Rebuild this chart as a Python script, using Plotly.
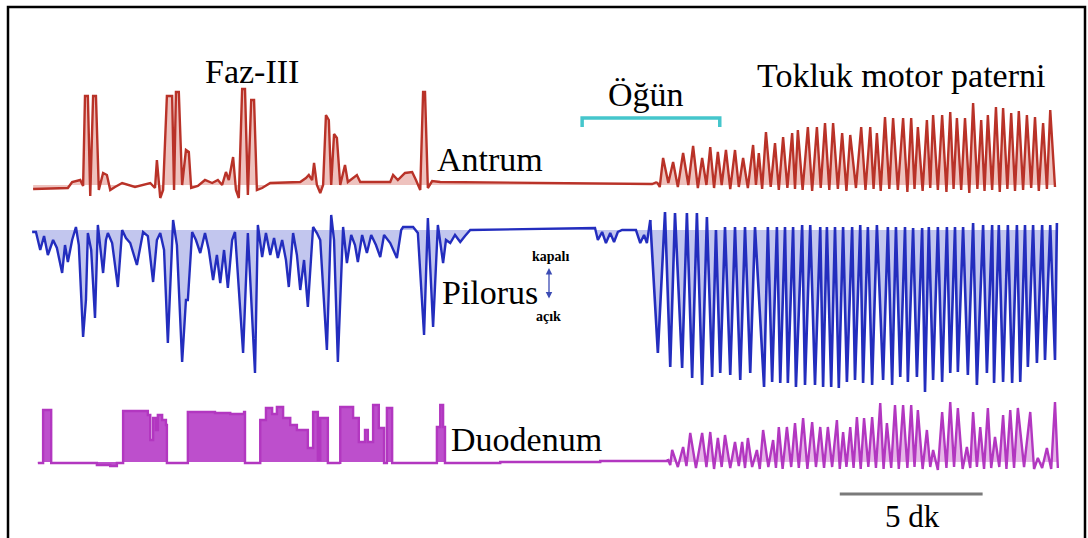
import plotly.graph_objects as go

# ---------------- data (time in seconds, amplitudes in arbitrary units, baseline = 0) -------------
antrum_rest_t = [-4, 69, 78, 95, 101, 105, 111, 116, 122, 128, 134, 143, 151, 158, 168, 183, 210, 242, 252, 256,
                 263, 269, 277, 288, 292, 296, 302, 309, 317, 323, 328, 342, 357, 372, 384, 393, 401, 407, 416, 422,
                 428, 435, 441, 447, 454, 460, 466, 477, 494, 557, 569, 575, 582, 586, 592, 599, 605, 611, 617, 622,
                 628, 634, 641, 651, 657, 676, 683, 746, 752, 762, 777, 792, 800, 809, 815, 819, 825, 834, 851, 1187,
                 1296, 1306]
antrum_rest_v = [-4, -3, 3, 5, -1, 89, 89, -11, 89, 89, -5, 12, 10, -5, -2, 2, -2, 2, -3, 25,
                 -13, -5, 89, 89, -5, 93, 93, 0, 35, 33, -3, -1, 5, 2, 5, 0, 13, 5, 28, -5,
                 -13, 96, 96, -10, 85, 85, -5, -3, 2, 3, 7, 10, 5, 22, 0, -8, 0, 70, 65, 0,
                 51, 47, 0, 20, 3, 10, 3, 3, 10, 5, 12, 13, 5, -5, 93, 93, -3, 4, 3, 2,
                 1, 3]

antrum_fed_t = [1306, 1312, 1319, 1330, 1340, 1350, 1361, 1372, 1382, 1392, 1401, 1410, 1418, 1426, 1434, 1442,
                1451, 1460, 1470, 1478, 1487, 1497, 1508, 1514, 1520, 1527, 1535, 1545, 1554, 1562, 1571, 1580,
                1590, 1596, 1602, 1612, 1623, 1632, 1642, 1650, 1659, 1668, 1676, 1686, 1695, 1704, 1712, 1724,
                1735, 1744, 1754, 1761, 1768, 1776, 1785, 1794, 1802, 1812, 1823, 1832, 1840, 1847, 1854, 1864,
                1873, 1880, 1886, 1896, 1905, 1914, 1922, 1929, 1936, 1945, 1953, 1962, 1970, 1979, 1987, 1994,
                2001, 2010, 2018, 2026, 2033, 2042, 2050, 2058, 2066, 2075, 2083, 2092, 2100, 2108, 2117, 2125,
                2132, 2142]
antrum_fed_v = [3, -2, 27, 2, 23, -2, 32, 0, 39, -3, 27, 0, 38, -3, 33, 0,
                35, -4, 35, -2, 27, -3, 40, 0, 32, -4, 53, -2, 42, -5, 48, -3,
                52, -4, 55, -5, 58, -6, 58, -3, 62, -5, 62, -4, 52, -6, 50, -3,
                58, -5, 58, -4, 52, -6, 68, -4, 67, -5, 67, -7, 67, -4, 58, -6,
                65, -3, 70, -5, 70, -7, 73, -4, 67, -5, 67, -8, 82, -4, 65, -6,
                70, -5, 78, -7, 77, -4, 72, -6, 74, -5, 70, -3, 68, -6, 62, -4,
                75, -2]

pylorus_rest_t = [-6, 2, 11, 19, 27, 38, 46, 57, 63, 69, 78, 86, 92, 101, 107, 111, 118, 126, 132, 143,
                  149, 153, 162, 174, 183, 191, 200, 214, 227, 237, 248, 256, 263, 271, 279, 290, 298, 309, 317, 321,
                  330, 338, 347, 357, 365, 374, 382, 389, 397, 405, 414, 420, 437, 447, 462, 468, 477, 485, 494, 502,
                  510, 519, 527, 533, 542, 550, 557, 565, 573, 584, 592, 599, 613, 622, 628, 636, 647, 655, 664, 672,
                  678, 687, 697, 706, 716, 725, 733, 746, 760, 769, 773, 794, 804, 817, 825, 836, 846, 857, 863, 872,
                  882, 893, 903, 914, 1176, 1182, 1191, 1199, 1208, 1216, 1224, 1233, 1262, 1271, 1279, 1285, 1292]
pylorus_rest_v = [-2, -2, -20, -6, -25, -10, -18, -43, -15, -32, -10, 3, -15, -107, -70, -3, -20, -88, 5, -43,
                  -10, -3, -13, -57, 0, -8, -13, -35, -2, -6, -52, -10, -3, -20, -113, 10, -15, -132, -70, -70,
                  -2, -10, -23, -3, -20, -50, -25, -53, -20, -58, -10, -2, -123, -3, -143, 5, -27, -3, -25, -8,
                  -28, -10, -30, -57, -3, -25, -60, -30, -77, 3, -3, -10, -120, 15, -10, -132, 3, -33, -5, -15,
                  -32, -5, -23, -5, -15, -27, -5, -13, -28, 0, 3, 3, -3, -105, 12, -97, 5, -33, -10, -13,
                  -5, -12, -6, 0, 2, -10, -2, -13, -3, -12, -2, 0, 0, -13, -5, -13, 10]

pylorus_fed_t = [1292, 1308, 1323, 1334, 1344, 1359, 1369, 1380, 1390, 1401, 1411, 1422, 1430, 1439, 1449, 1460,
                 1470, 1481, 1491, 1502, 1512, 1531, 1539, 1548, 1558, 1565, 1575, 1581, 1592, 1598, 1611, 1617,
                 1628, 1638, 1649, 1655, 1663, 1672, 1680, 1688, 1697, 1705, 1716, 1722, 1733, 1739, 1749, 1758,
                 1768, 1781, 1791, 1800, 1808, 1817, 1827, 1833, 1844, 1852, 1863, 1869, 1877, 1886, 1896, 1905,
                 1915, 1922, 1932, 1938, 1949, 1959, 1970, 1978, 1991, 1999, 2010, 2014, 2024, 2033, 2043, 2052,
                 2062, 2069, 2079, 2085, 2096, 2104, 2115, 2121, 2132, 2142, 2146]
pylorus_fed_v = [10, -123, 18, -137, 17, -138, 17, -148, 17, -155, 13, -147, 0, -143, 3, -145,
                 3, -150, 3, -143, 3, -157, 3, -152, 3, -153, 3, -153, 3, -157, 5, -155,
                 5, -155, 3, -157, 3, -157, 3, -158, 3, -152, 3, -150, 5, -153, 3, -155,
                 5, -150, 3, -155, 3, -147, 3, -152, 2, -147, 2, -162, 3, -150, 3, -152,
                 3, -143, 3, -142, 3, -145, 7, -155, 5, -143, 5, -153, 5, -152, 5, -153,
                 5, -152, 5, -137, 5, -133, 5, -130, 5, -130, 7]

duodenum_rest_t = [6, 17, 17, 34, 34, 122, 130, 158, 172, 185, 185, 231, 237, 242, 248, 254, 258, 267, 275, 277,
                   319, 321, 378, 410, 439, 441, 470, 473, 485, 498, 508, 521, 536, 550, 571, 573, 582, 584, 592, 594,
                   599, 613, 615, 641, 641, 666, 668, 678, 680, 693, 699, 708, 710, 720, 722, 731, 733, 739, 739, 748,
                   750, 844, 844, 851, 857, 861, 977, 1187, 1329]
duodenum_rest_v = [-1, -1, 52, 52, -1, -1, -3, -4, -1, -1, 51, 51, 47, 22, 44, 32, 47, 42, 37, -1,
                   -1, 50, 49, 48, 50, -1, -1, 42, 54, 48, 55, 44, 37, 32, 32, 14, 14, 50, 50, 2,
                   44, 44, -1, -2, 55, 55, 44, 44, 20, 32, 20, 20, 57, 57, 34, 34, -1, -1, 54, 54,
                   -1, -1, 35, 57, 35, -1, 0, 1, 3]

duodenum_fed_t = [1329, 1334, 1338, 1350, 1361, 1368, 1376, 1388, 1401, 1410, 1418, 1426, 1434, 1442, 1449, 1460,
                  1470, 1478, 1485, 1491, 1497, 1506, 1516, 1522, 1529, 1540, 1550, 1556, 1562, 1570, 1579, 1588,
                  1596, 1604, 1613, 1622, 1632, 1640, 1649, 1657, 1665, 1674, 1684, 1690, 1697, 1704, 1712, 1719,
                  1726, 1734, 1741, 1750, 1758, 1766, 1775, 1782, 1789, 1798, 1806, 1814, 1823, 1832, 1840, 1847,
                  1854, 1864, 1873, 1880, 1886, 1896, 1905, 1914, 1922, 1930, 1938, 1948, 1957, 1964, 1970, 1978,
                  1985, 1993, 2001, 2008, 2016, 2025, 2033, 2040, 2048, 2056, 2064, 2077, 2090, 2098, 2106, 2115,
                  2125, 2134, 2142, 2148]
duodenum_fed_v = [3, -3, 12, -5, 15, -4, 29, -6, 29, -5, 30, -7, 24, -5, 27, -6,
                  20, -4, 20, -6, 24, -5, 12, -7, 32, -5, 22, -6, 35, -7, 35, -5,
                  39, -6, 44, -7, 40, -5, 35, -6, 35, -5, 42, -7, 30, -5, 35, -6,
                  45, -7, 44, -5, 45, -6, 59, -7, 39, -6, 57, -7, 57, -6, 57, -5,
                  52, -7, 32, -5, 12, -8, 50, -6, 60, -5, 54, -7, 15, -6, 50, -5,
                  35, -7, 54, -6, 25, -5, 47, -7, 52, -6, 54, -5, 50, -7, 4, -6,
                  14, -7, 60, -6]

meal_start, meal_end = 1149, 1438      # s  (Öğün)
scale_start, scale_len = 1690, 300     # s  (5 dk)

# ---------------- figure ----------------
W, H = 1088, 538
SERIF = "Liberation Serif"
fig = go.Figure()


def add(t, v, yaxis, line_color, fill_color, width=2.4, shape="linear"):
    fig.add_trace(go.Scatter(
        x=t, y=v, yaxis=yaxis, mode="lines",
        line=dict(color=line_color, width=width, shape=shape),
        fill="tozeroy", fillcolor=fill_color,
        hoverinfo="skip", showlegend=False))


RED, RED_F = "rgb(185,50,40)", "rgba(215,110,100,0.42)"
BLUE, BLUE_F = "rgb(35,45,190)", "rgba(110,120,215,0.42)"
PUR, PUR_F, PUR_F2 = "rgb(178,55,192)", "rgba(182,60,198,0.9)", "rgba(205,110,210,0.5)"

add(antrum_rest_t, antrum_rest_v, "y", RED, RED_F)
add(antrum_fed_t, antrum_fed_v, "y", RED, RED_F)
add(pylorus_rest_t, pylorus_rest_v, "y2", BLUE, BLUE_F)
add(pylorus_fed_t, pylorus_fed_v, "y2", BLUE, BLUE_F, width=2.6)
add(duodenum_rest_t, duodenum_rest_v, "y3", PUR, PUR_F, shape="hv")
add(duodenum_fed_t, duodenum_fed_v, "y3", PUR, PUR_F2)


def dom(px_bottom, px_top):
    return [1 - px_bottom / H, 1 - px_top / H]


fig.update_layout(
    width=W, height=H, margin=dict(l=0, r=0, t=0, b=0),
    paper_bgcolor="white", plot_bgcolor="rgba(0,0,0,0)",
    font=dict(family=SERIF),
    xaxis=dict(range=[-73.5, 2211.3], domain=[0, 1], visible=False, fixedrange=True),
    yaxis=dict(range=[-15, 105], domain=dom(200, 80), visible=False),
    yaxis2=dict(range=[-170, 25], domain=dom(400, 205), visible=False, anchor="x"),
    yaxis3=dict(range=[-18, 67], domain=dom(480, 395), visible=False, anchor="x"),
    showlegend=False,
)

shapes = [
    # frame
    dict(type="rect", xref="paper", yref="paper", x0=8 / W, x1=1085 / W, y0=-0.1, y1=1 - 7 / H,
         line=dict(color="black", width=2.5), fillcolor="rgba(0,0,0,0)"),
    # meal bracket
    dict(type="path", xref="x", yref="y",
         path=f"M {meal_start},58 L {meal_start},67 L {meal_end},67 L {meal_end},58",
         line=dict(color="#45c6cc", width=3.5)),
    # 5 min scale bar
    dict(type="line", xref="x", yref="paper", x0=scale_start, x1=scale_start + scale_len,
         y0=1 - 494 / H, y1=1 - 494 / H, line=dict(color="#7a7a7a", width=3)),
]
fig.update_layout(shapes=shapes)


def label(text, px, py, size=34):
    fig.add_annotation(text=text, x=px / W, y=1 - py / H, xref="paper", yref="paper",
                       showarrow=False, xanchor="center", yanchor="middle",
                       font=dict(family=SERIF, size=size, color="black"))


label("Faz-III", 252, 71)
label("Öğün", 646, 95)
label("Tokluk motor paterni", 901, 75)
label("Antrum", 490, 159)
label("Pilorus", 490, 292)
label("Duodenum", 526, 439)
label("<b>kapalı</b>", 550, 257, size=14)
label("<b>açık</b>", 548, 316, size=14)
label("5 dk", 912, 516, size=31)

fig.add_annotation(text="", x=549 / W, y=1 - 268 / H, xref="paper", yref="paper",
                   showarrow=True, ax=0, ay=32, arrowside="end+start", arrowhead=2,
                   arrowsize=1, arrowwidth=1.3, arrowcolor="#3c4cb4")

fig.write_html("out.html")
